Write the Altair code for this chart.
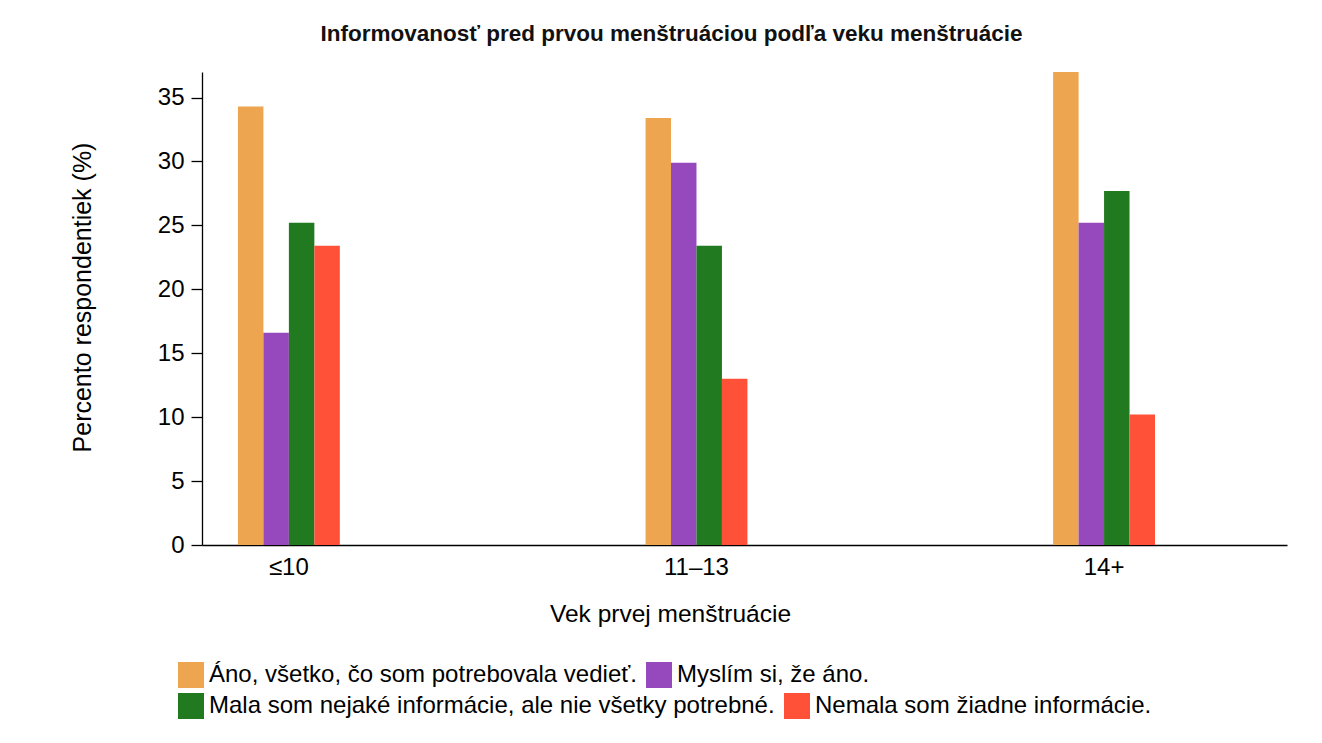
import altair as alt
import pandas as pd

ages = ["≤10", "11–13", "14+"]
answers = [
    "Áno, všetko, čo som potrebovala vedieť.",
    "Myslím si, že áno.",
    "Mala som nejaké informácie, ale nie všetky potrebné.",
    "Nemala som žiadne informácie.",
]
colors = ["#EEA550", "#9649BC", "#227A20", "#FF5038"]

ano = [34.3, 33.4, 37.0]
myslim = [16.6, 29.9, 25.2]
mala = [25.2, 23.4, 27.7]
nemala = [23.4, 13.0, 10.2]

y_ticks = [0, 5, 10, 15, 20, 25, 30, 35]

rows = []
for ans, vals in zip(answers, [ano, myslim, mala, nemala]):
    for a, v in zip(ages, vals):
        rows.append({"age": a, "answer": ans, "value": v})
df = pd.DataFrame(rows)

FONT = "Liberation Sans"

x_enc = alt.X(
    "age:N",
    sort=ages,
    scale=alt.Scale(paddingInner=0.75, paddingOuter=0.206, align=0.214),
    axis=alt.Axis(
        title="Vek prvej menštruácie",
        labelAngle=0,
        ticks=False,
        labelPadding=10,
        labelFontSize=24,
        titleFontSize=24.5,
        titleX=468,
        titleY=76,
        titleBaseline="alphabetic",
        titleAlign="center",
    ),
)
xoff_enc = alt.XOffset("answer:N", sort=answers, scale=alt.Scale(domain=answers))
y_enc = alt.Y(
    "value:Q",
    scale=alt.Scale(domain=[0, 37], nice=False),
    axis=alt.Axis(
        title="Percento respondentiek (%)",
        values=y_ticks,
        tickSize=11,
        labelPadding=7,
        labelFontSize=24,
        titleFontSize=25,
        titleX=-120,
        titleY=225,
        titleBaseline="middle",
        titleAlign="center",
    ),
)


def legend_for(y):
    return alt.Legend(
        title=None,
        orient="none",
        legendX=-24,
        legendY=y,
        direction="horizontal",
        symbolType="square",
        symbolSize=676,
        symbolStrokeWidth=0,
        symbolOpacity=1,
        labelFontSize=24,
        labelOffset=5,
        columnPadding=9,
        labelLimit=1000,
        padding=0,
    )


base = alt.Chart(df)

row1 = base.transform_filter(
    alt.FieldOneOfPredicate(field="answer", oneOf=answers[:2])
).mark_bar().encode(
    x=x_enc,
    xOffset=xoff_enc,
    y=y_enc,
    color=alt.Color(
        "answer:N",
        scale=alt.Scale(domain=answers[:2], range=colors[:2]),
        legend=legend_for(590),
    ),
)

row2 = base.transform_filter(
    alt.FieldOneOfPredicate(field="answer", oneOf=answers[2:])
).mark_bar().encode(
    x=x_enc,
    xOffset=xoff_enc,
    y=y_enc,
    fill=alt.Fill(
        "answer:N",
        scale=alt.Scale(domain=answers[2:], range=colors[2:]),
        legend=legend_for(621),
    ),
)

chart = alt.layer(row1, row2).resolve_scale(
    color="independent", fill="independent"
).properties(
    width=1085,
    height=473,
    title=alt.TitleParams(
        "Informovanosť pred prvou menštruáciou podľa veku menštruácie",
        font=FONT,
        fontSize=22.5,
        fontWeight="bold",
        anchor="middle",
        dx=-73,
        offset=9,
        baseline="alphabetic",
        color="#111111",
    ),
    padding={"left": 194, "top": 64, "right": 20, "bottom": 190},
    autosize=alt.AutoSizeParams(type="none"),
    background="white",
).configure_axis(
    labelFont=FONT,
    titleFont=FONT,
    labelColor="#000000",
    titleColor="#000000",
    titleFontWeight="normal",
    domainColor="#000000",
    domainWidth=1.3,
    tickColor="#000000",
    tickWidth=1.3,
    grid=False,
).configure_legend(
    labelFont=FONT,
    labelColor="#000000",
).configure_view(
    strokeWidth=0,
)

chart.save("out.html", embed_options={"renderer": "svg", "actions": False})
